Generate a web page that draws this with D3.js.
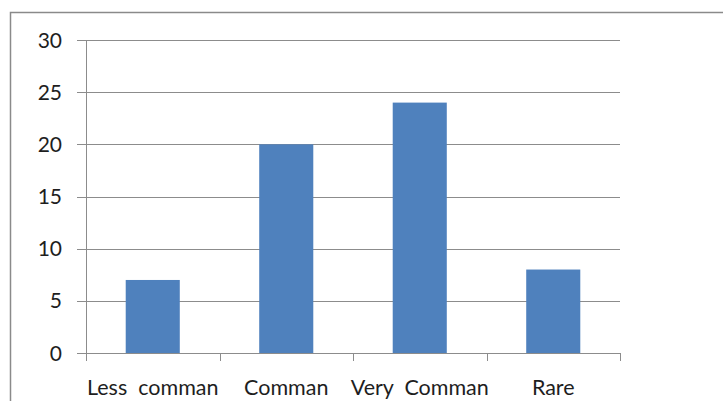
<!DOCTYPE html>
<html>
<head>
<meta charset="utf-8">
<script src="https://cdn.jsdelivr.net/npm/d3@7"></script>
<style>
  html, body { margin: 0; padding: 0; background: #fff; }
  svg { display: block; }
  text { font-family: Lato, "Open Sans", sans-serif; fill: #1e1e1e; white-space: pre; }
</style>
</head>
<body>
<svg id="chart" width="723" height="401"></svg>
<script>
// Frequency categories and their counts
const categories = ["Less  comman", "Comman", "Very  Comman", "Rare"];
const counts = [7, 20, 24, 8];
const yTicks = [0, 5, 10, 15, 20, 25, 30];

const svg = d3.select("#chart");
const plot = { left: 86, right: 620, top: 40, bottom: 353 };

// Outer chart frame (runs past the right and bottom edges)
svg.append("rect")
  .attr("x", 10.5).attr("y", 12.5)
  .attr("width", 740).attr("height", 420)
  .attr("fill", "#fff")
  .attr("stroke", "#8a8a8a")
  .attr("stroke-width", 1.5);

const x = d3.scaleBand()
  .domain(categories)
  .range([plot.left, plot.right])
  .paddingInner(0.595)
  .paddingOuter(0.2975);

const y = d3.scaleLinear()
  .domain([0, 30])
  .range([plot.bottom, plot.top]);

// Horizontal gridlines with outward tick stubs
svg.append("g")
  .selectAll("line")
  .data(yTicks)
  .join("line")
  .attr("x1", plot.left - 9)
  .attr("x2", plot.right)
  .attr("y1", d => Math.round(y(d)) + 0.5)
  .attr("y2", d => Math.round(y(d)) + 0.5)
  .attr("stroke", "#8c8c8c")
  .attr("stroke-width", 1);

// Y tick labels
svg.append("g")
  .selectAll("text")
  .data(yTicks)
  .join("text")
  .attr("x", 62)
  .attr("y", d => y(d))
  .attr("dy", "0.36em")
  .attr("text-anchor", "end")
  .attr("font-size", 21)
  .text(d => d);

// Bars
svg.append("g")
  .selectAll("rect")
  .data(counts)
  .join("rect")
  .attr("x", (d, i) => x(categories[i]))
  .attr("width", x.bandwidth())
  .attr("y", d => y(d))
  .attr("height", d => y(0) - y(d))
  .attr("fill", "#4f81bd");

// Vertical axis line
svg.append("line")
  .attr("x1", plot.left + 0.5).attr("x2", plot.left + 0.5)
  .attr("y1", plot.top).attr("y2", plot.bottom)
  .attr("stroke", "#8c8c8c");

// Category axis with ticks between bands
const step = x.step();
const boundaries = d3.range(categories.length + 1).map(i => plot.left + i * step);
svg.append("g")
  .selectAll("line")
  .data(boundaries)
  .join("line")
  .attr("x1", d => Math.round(d) + 0.5)
  .attr("x2", d => Math.round(d) + 0.5)
  .attr("y1", Math.round(y(0)))
  .attr("y2", Math.round(y(0)) + 8)
  .attr("stroke", "#8c8c8c");

// Category labels
svg.append("g")
  .selectAll("text")
  .data(categories)
  .join("text")
  .attr("x", d => x(d) + x.bandwidth() / 2)
  .attr("y", 395)
  .attr("text-anchor", "middle")
  .attr("font-size", 21.5)
  .text(d => d);
</script>
</body>
</html>
